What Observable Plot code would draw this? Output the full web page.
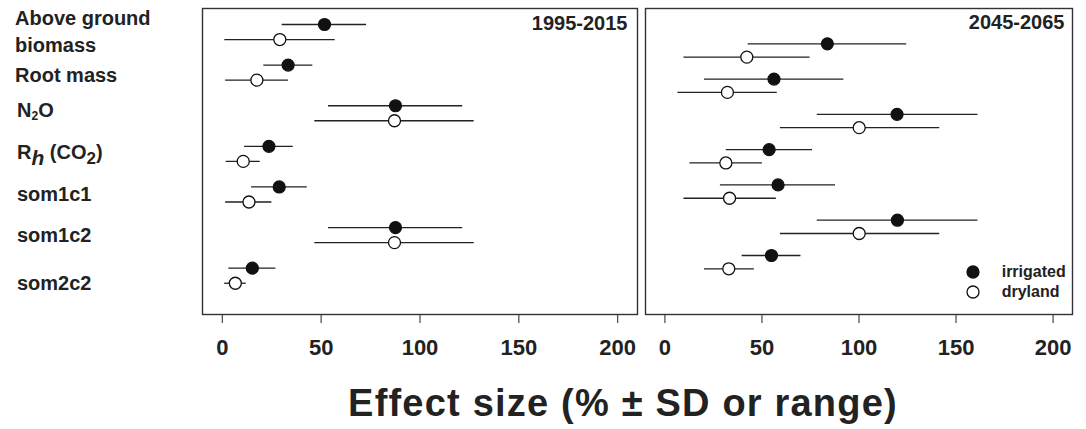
<!DOCTYPE html>
<html>
<head>
<meta charset="utf-8">
<script src="https://cdn.jsdelivr.net/npm/d3@7"></script>
<script src="https://cdn.jsdelivr.net/npm/@observablehq/plot@0.6"></script>
<style>
  html, body { margin: 0; padding: 0; background: #fff; }
  #wrap { position: relative; width: 1086px; height: 429px; overflow: hidden; font-family: 'Liberation Sans', Arial, sans-serif; color: #222; }
  .cat { position: absolute; left: 15px; font-size: 20px; font-weight: bold; line-height: 27px; transform: translateY(-50%); white-space: nowrap; }
  .leg { position: absolute; font-size: 16px; font-weight: bold; transform: translateY(-50%); white-space: nowrap; }
  #xtitle { position: absolute; left: 623px; top: 382px; transform: translateX(-50%); font-size: 38px; font-weight: bold; letter-spacing: 1.2px; white-space: nowrap; }
</style>
</head>
<body>
<div id="wrap"></div>
<script>
// ---- data ----
const categories = ["Above ground biomass", "Root mass", "N2O", "Rh (CO2)", "som1c1", "som1c2", "som2c2"];
const categoryLabels = [
  "Above ground<br>biomass",
  "Root mass",
  "N<sub style='font-size:12px;vertical-align:-3px'>2</sub>O",
  "R<sub style='font-size:21px;font-style:italic;vertical-align:-6px'>h</sub> (CO<sub style='font-size:17px;vertical-align:-5px'>2</sub>)",
  "som1c1",
  "som1c2",
  "som2c2"
];
const groups = ["irrigated", "dryland"];
const periods = ["1995-2015", "2045-2065"];
const xTicks = [0, 50, 100, 150, 200];

// 1995-2015
const histIrrMean = [51.7, 33.3, 87.6, 23.6, 28.8, 87.6, 15.2];
const histIrrLo   = [30.3, 21.0, 53.7, 11.3, 14.8, 53.7, 3.3];
const histIrrHi   = [73.0, 45.8, 121.6, 35.9, 43.0, 121.6, 27.1];
const histDryMean = [29.1, 17.5, 87.1, 10.6, 13.5, 87.1, 6.6];
const histDryLo   = [1.3, 1.7, 46.8, 2.0, 1.7, 46.8, 1.2];
const histDryHi   = [57.1, 33.5, 127.4, 19.2, 25.1, 127.4, 12.1];
// 2045-2065
const futIrrMean = [83.7, 56.2, 119.6, 53.7, 58.3, 119.8, 54.9];
const futIrrLo   = [42.9, 20.4, 78.5, 31.6, 28.6, 78.5, 39.8];
const futIrrHi   = [124.6, 92.2, 161.3, 76.1, 87.9, 161.3, 70.1];
const futDryMean = [42.2, 32.2, 100.1, 31.4, 33.3, 100.1, 32.9];
const futDryLo   = [9.8, 6.7, 59.5, 12.9, 9.8, 59.5, 20.4];
const futDryHi   = [74.8, 57.9, 141.6, 50.2, 57.4, 141.6, 46.1];

// ---- build ----
function rowsFor(irrMean, irrLo, irrHi, dryMean, dryLo, dryHi, offset) {
  return categories.flatMap((c, i) => [
    {cat: c, g: groups[0], y: i, mean: irrMean[i], lo: irrLo[i], hi: irrHi[i]},
    {cat: c, g: groups[1], y: i + offset, mean: dryMean[i], lo: dryLo[i], hi: dryHi[i]}
  ]);
}

function panel({width, marginLeft, marginRight, yRange, rows, title, tdx, tdy}) {
  return Plot.plot({
    width, height: 365,
    marginLeft, marginRight, marginTop: 8, marginBottom: 51,
    x: {domain: [-10, 210], ticks: xTicks, tickSize: 9, tickPadding: 16, label: null},
    y: {domain: [0, 6], range: yRange, axis: null},
    style: {fontFamily: "'Liberation Sans', Arial, sans-serif", fontSize: "22px", fontWeight: "bold", color: "#222", background: "transparent", overflow: "visible"},
    marks: [
      Plot.frame({stroke: "#333", strokeWidth: 1.4}),
      Plot.ruleY(rows, {y: "y", x1: "lo", x2: "hi", stroke: "#222", strokeWidth: 1.3}),
      Plot.dot(rows.filter(d => d.g === "irrigated"), {x: "mean", y: "y", r: 6, fill: "#111", stroke: "#111", strokeWidth: 1.2}),
      Plot.dot(rows.filter(d => d.g === "dryland"), {x: "mean", y: "y", r: 6, fill: "#fff", stroke: "#111", strokeWidth: 1.3}),
      Plot.text([title], {frameAnchor: "top-right", dx: tdx, dy: tdy, text: d => d, fontSize: 20, fontWeight: "bold", textAnchor: "end", lineAnchor: "middle", fill: "#222"})
    ]
  });
}

const wrap = document.getElementById("wrap");

const leftOffset = 0.37, rightOffset = 0.377;
const leftRows = rowsFor(histIrrMean, histIrrLo, histIrrHi, histDryMean, histDryLo, histDryHi, leftOffset);
const rightRows = rowsFor(futIrrMean, futIrrLo, futIrrHi, futDryMean, futDryLo, futDryHi, rightOffset);

const left = panel({width: 640, marginLeft: 202, marginRight: 3, yRange: [24, 267.7], rows: leftRows, title: periods[0], tdx: -10, tdy: 15});
left.style.position = "absolute"; left.style.left = "0px"; left.style.top = "0px";
wrap.appendChild(left);

const right = panel({width: 446, marginLeft: 5, marginRight: 14, yRange: [43.3, 255], rows: rightRows, title: periods[1], tdx: -8, tdy: 14.5});
right.style.position = "absolute"; right.style.left = "640px"; right.style.top = "0px";
wrap.appendChild(right);

// category labels, positioned through the left panel's y scale
const yL = left.scale("y");
const labelShift = {1: 3, 3: 2, 6: 8}; // layout nudges (px)
categories.forEach((c, i) => {
  const div = document.createElement("div");
  div.className = "cat";
  div.innerHTML = categoryLabels[i];
  div.style.top = (yL.apply(i + leftOffset / 2) + (labelShift[i] || 0)) + "px";
  if (i >= 2) div.style.left = "17px";
  wrap.appendChild(div);
});

// legend
const legendTop = 272.3, legendGap = 19.4;
groups.forEach((g, i) => {
  const y = legendTop + i * legendGap;
  const dot = document.createElementNS("http://www.w3.org/2000/svg", "svg");
  dot.setAttribute("width", 16); dot.setAttribute("height", 16);
  dot.style.position = "absolute"; dot.style.left = (972.7 - 8) + "px"; dot.style.top = (y - 8) + "px";
  const c = document.createElementNS("http://www.w3.org/2000/svg", "circle");
  c.setAttribute("cx", 8); c.setAttribute("cy", 8); c.setAttribute("r", 6);
  c.setAttribute("fill", i === 0 ? "#111" : "#fff"); c.setAttribute("stroke", "#111"); c.setAttribute("stroke-width", 1.3);
  dot.appendChild(c);
  wrap.appendChild(dot);
  const t = document.createElement("div");
  t.className = "leg"; t.textContent = g;
  t.style.left = "1001.7px"; t.style.top = y + "px";
  wrap.appendChild(t);
});

// x title
const xt = document.createElement("div");
xt.id = "xtitle";
xt.textContent = "Effect size (% \u00B1 SD or range)";
wrap.appendChild(xt);
</script>
</body>
</html>
